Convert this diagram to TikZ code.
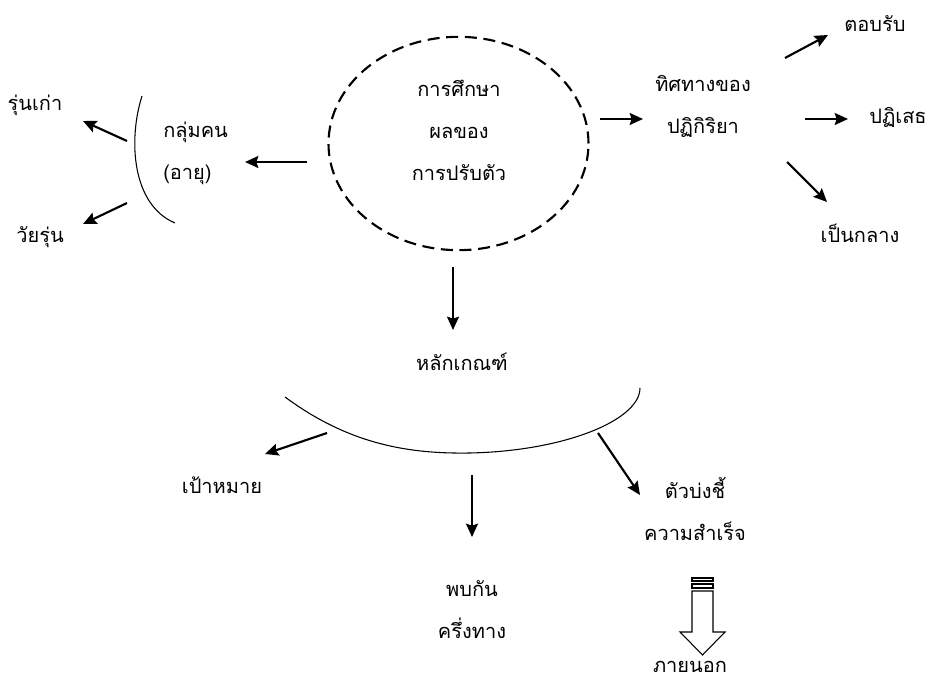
\documentclass[tikz,border=0pt]{standalone}
\usepackage{fontspec}
\newfontfamily\thaifont[Script=Thai]{Loma}
\usetikzlibrary{arrows.meta,shapes.geometric}

\begin{document}
\begin{tikzpicture}[>={Stealth[length=10pt,width=9pt,inset=1.5pt]}, x=0.75pt, y=-0.75pt,
		every node/.style={font=\thaifont\fontsize{15}{31.5}\selectfont, inner sep=0pt, align=center},
		arr/.style={->, line width=1.6pt},
		thinline/.style={line width=0.8pt}]
			\useasboundingbox (0,0) rectangle (931,680);
			
			\node[ellipse, draw, dashed, dash pattern=on 9pt off 5pt, line width=1.6pt,
				minimum width=195pt, minimum height=160pt] (ring) at (458.5,143.5) {};
			\node (study) at (459,130) {การศึกษา\\ผลของ\\การปรับตัว};
			\node (react) at (703,106) {ทิศทางของ\\ปฏิกิริยา};
			\node (accept) at (875,24) {ตอบรับ};
			\node (refuse) at (898,117) {ปฏิเสธ};
			\node (neutral) at (860,233) {เป็นกลาง};
			\node[anchor=west, align=left] (group) at (163,153) {กลุ่มคน\\(อายุ)};
			\node (old) at (35,105) {รุ่นเก่า};
			\node (teen) at (40,237) {วัยรุ่น};
			\node (rule) at (462,362) {หลักเกณฑ์};
			\node (goal) at (222,485) {เป้าหมาย};
			\node (meet) at (472,610) {พบกัน\\ครึ่งทาง};
			\node (kpi) at (695,509) {ตัวบ่งชี้\\ความสำเร็จ};
			\node (outside) at (690,667) {ภายนอก};
			
			\coordinate (ring-l) at (307,162);   \coordinate (group-r) at (245,162);
			\coordinate (ring-r) at (600,119);   \coordinate (react-l) at (643,119);
			\coordinate (react-a) at (785,58);   \coordinate (accept-l) at (828,35);
			\coordinate (react-b) at (805,119);  \coordinate (refuse-l) at (848,119);
			\coordinate (react-c) at (787,162);  \coordinate (neutral-t) at (827,202);
			\coordinate (group-a) at (127,141);  \coordinate (old-r) at (83,121);
			\coordinate (group-b) at (127,203);  \coordinate (teen-r) at (83,224);
			\coordinate (ring-b) at (453,267);   \coordinate (rule-t) at (453,330);
			\coordinate (rule-a) at (327,433);   \coordinate (goal-r) at (265,454);
			\coordinate (rule-b) at (472,475);   \coordinate (meet-t) at (472,537);
			\coordinate (rule-c) at (598,433);   \coordinate (kpi-l) at (640,495);
			
			\draw[arr] (ring-l) -- (group-r);
			\draw[arr] (ring-r) -- (react-l);
			\draw[arr] (react-a) -- (accept-l);
			\draw[arr] (react-b) -- (refuse-l);
			\draw[arr] (react-c) -- (neutral-t);
			\draw[arr] (group-a) -- (old-r);
			\draw[arr] (group-b) -- (teen-r);
			\draw[arr] (ring-b) -- (rule-t);
			\draw[arr] (rule-a) -- (goal-r);
			\draw[arr] (rule-b) -- (meet-t);
			\draw[arr] (rule-c) -- (kpi-l);
			
			\draw[thinline] (142,96) .. controls (128,140) and (132,205) .. (175,223);
			\draw[thinline] (285,397) .. controls (350,445) and (410,454) .. (470,453)
				.. controls (565,451) and (640,420) .. (640,388);
			
			\draw[thinline] (692,578) rectangle (713,581);
			\draw[thinline] (692,584) rectangle (713,588);
			\draw[thinline] (692,591) -- (713,591) -- (713,632) -- (725,632) -- (702.5,655)
				-- (680,632) -- (692,632) -- cycle;
		\end{tikzpicture}
\end{document}
